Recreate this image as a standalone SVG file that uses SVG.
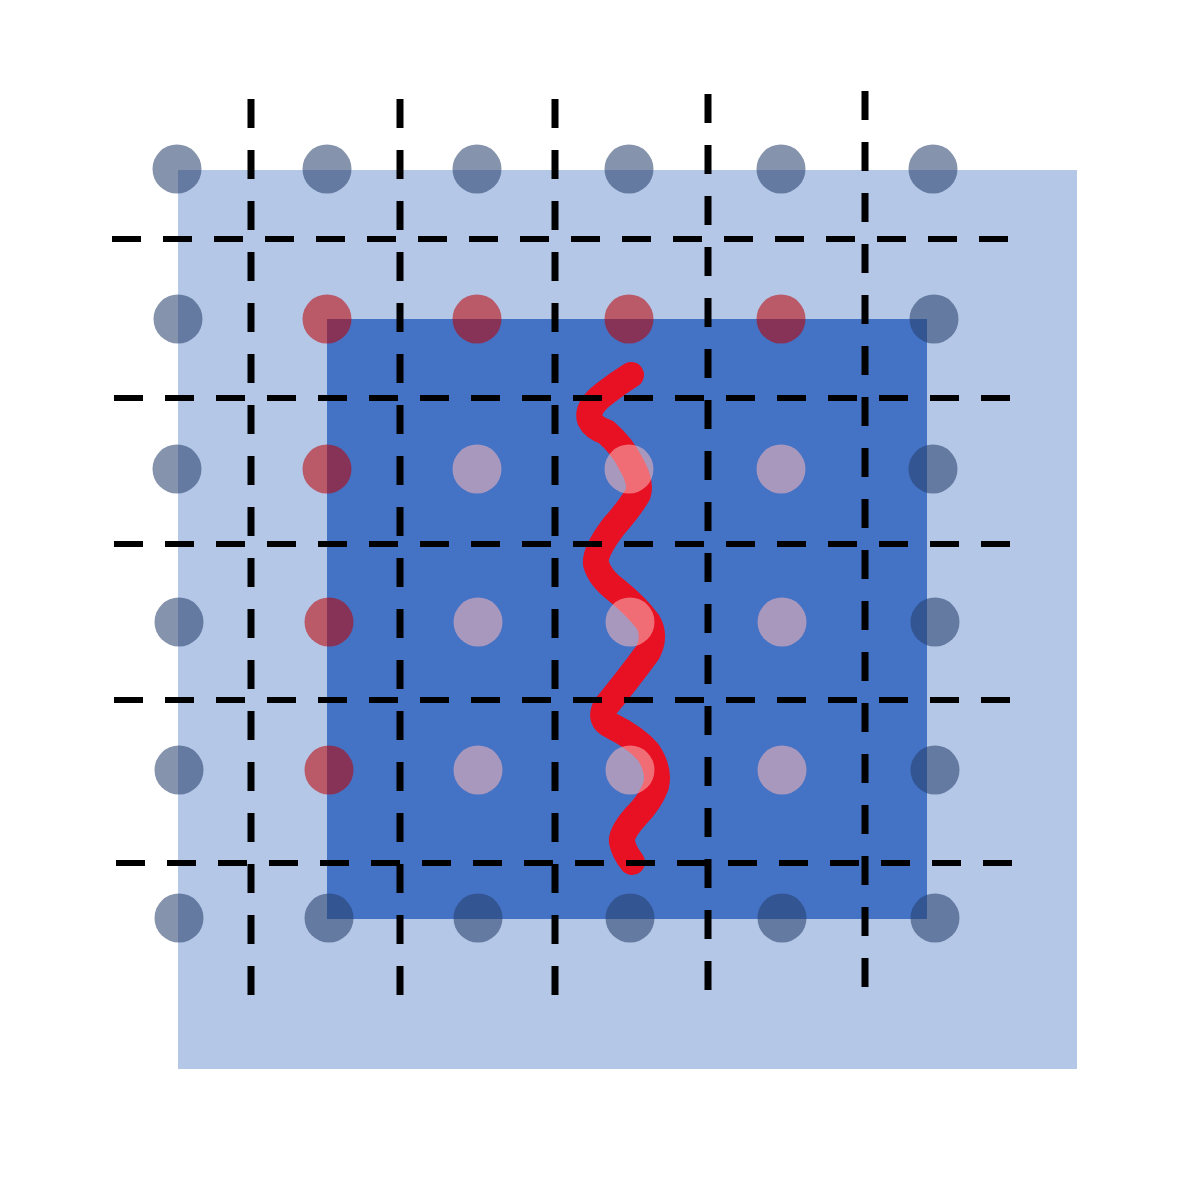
<svg xmlns="http://www.w3.org/2000/svg" width="1199" height="1199" viewBox="0 0 1199 1199">
<style>
.navy{fill:#253e6b;fill-opacity:0.56}
.red{fill:#c00000;fill-opacity:0.55}
.pink{fill:#f6b5b7;fill-opacity:0.56}
.dash{stroke:#000;stroke-width:7;stroke-dasharray:29 22;fill:none}
</style>
<rect width="1199" height="1199" fill="#fff"/>
<g id="outer-square"><rect x="178" y="170" width="899" height="899" fill="#b4c7e7"/></g>
<g id="inner-square"><rect x="327" y="319" width="600" height="600" fill="#4472c4"/></g>
<g id="wave"><path d="M 631 375 Q 618 383 604 394 Q 586 408 590 420 Q 594 428 606 432 Q 622 446 630 462 Q 642 482 638 494 Q 630 508 614 526 Q 594 552 596 564 Q 600 578 616 590 Q 636 606 648 622 Q 656 636 648 652 Q 626 682 606 706 Q 598 720 612 726 Q 636 738 648 752 Q 660 770 656 786 Q 650 802 636 816 Q 620 834 622 842 Q 624 852 632 862" fill="none" stroke="#e81123" stroke-width="26" stroke-linecap="round" stroke-linejoin="round"/></g>
<g id="dots">
<circle class="navy" cx="177" cy="169" r="24.5"/><circle class="navy" cx="327" cy="169" r="24.5"/><circle class="navy" cx="477" cy="169" r="24.5"/><circle class="navy" cx="629" cy="169" r="24.5"/><circle class="navy" cx="781" cy="169" r="24.5"/><circle class="navy" cx="933" cy="169" r="24.5"/>
<circle class="navy" cx="178" cy="319" r="24.5"/><circle class="red" cx="327" cy="319" r="24.5"/><circle class="red" cx="477" cy="319" r="24.5"/><circle class="red" cx="629" cy="319" r="24.5"/><circle class="red" cx="781" cy="319" r="24.5"/><circle class="navy" cx="934" cy="319" r="24.5"/>
<circle class="navy" cx="177" cy="469" r="24.5"/><circle class="red" cx="327" cy="469" r="24.5"/><circle class="pink" cx="477" cy="469" r="24.5"/><circle class="pink" cx="629" cy="469" r="24.5"/><circle class="pink" cx="781" cy="469" r="24.5"/><circle class="navy" cx="933" cy="469" r="24.5"/>
<circle class="navy" cx="179" cy="622" r="24.5"/><circle class="red" cx="329" cy="622" r="24.5"/><circle class="pink" cx="478" cy="622" r="24.5"/><circle class="pink" cx="630" cy="622" r="24.5"/><circle class="pink" cx="782" cy="622" r="24.5"/><circle class="navy" cx="935" cy="622" r="24.5"/>
<circle class="navy" cx="179" cy="770" r="24.5"/><circle class="red" cx="329" cy="770" r="24.5"/><circle class="pink" cx="478" cy="770" r="24.5"/><circle class="pink" cx="630" cy="770" r="24.5"/><circle class="pink" cx="782" cy="770" r="24.5"/><circle class="navy" cx="935" cy="770" r="24.5"/>
<circle class="navy" cx="179" cy="918" r="24.5"/><circle class="navy" cx="329" cy="918" r="24.5"/><circle class="navy" cx="478" cy="918" r="24.5"/><circle class="navy" cx="630" cy="918" r="24.5"/><circle class="navy" cx="782" cy="918" r="24.5"/><circle class="navy" cx="935" cy="918" r="24.5"/>
</g>
<g id="grid-lines">
<line class="dash" x1="251" y1="995" x2="251" y2="99"/>
<line class="dash" x1="400" y1="995" x2="400" y2="99"/>
<line class="dash" x1="555" y1="995" x2="555" y2="99"/>
<line class="dash" x1="708" y1="990" x2="708" y2="94"/>
<line class="dash" x1="865" y1="987" x2="865" y2="91"/>
<line class="dash" style="stroke-width:6" x1="112" y1="239" x2="1008" y2="239"/>
<line class="dash" style="stroke-width:6" x1="114" y1="398" x2="1010" y2="398"/>
<line class="dash" style="stroke-width:6" x1="114" y1="544" x2="1010" y2="544"/>
<line class="dash" style="stroke-width:6" x1="114" y1="700" x2="1010" y2="700"/>
<line class="dash" style="stroke-width:6" x1="116" y1="863" x2="1012" y2="863"/>
</g>
</svg>
